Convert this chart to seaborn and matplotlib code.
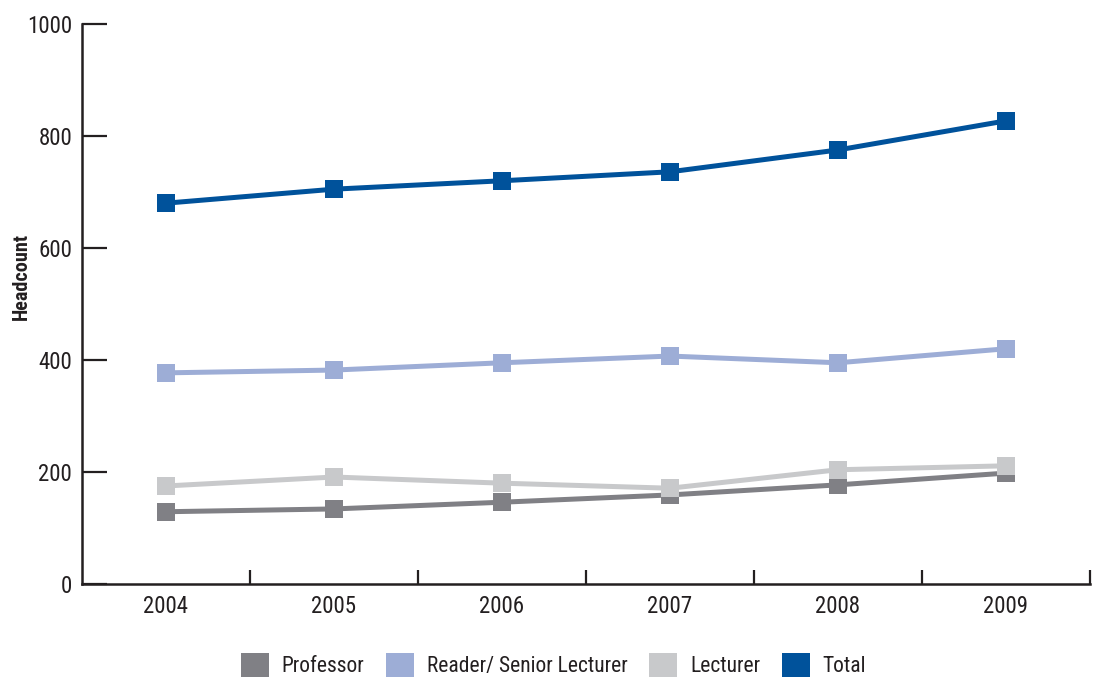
import matplotlib
matplotlib.use("Agg")
import matplotlib.pyplot as plt
from matplotlib import font_manager
from matplotlib.patches import Patch
import pandas as pd
import seaborn as sns

years = ["2004", "2005", "2006", "2007", "2008", "2009"]
professor = [129, 134, 146, 159, 177, 198]
reader = [377, 382, 395, 407, 395, 420]
lecturer = [175, 191, 180, 171, 204, 211]
total = [680, 705, 720, 736, 775, 827]

series_names = ["Professor", "Reader/ Senior Lecturer", "Lecturer", "Total"]
series_values = [professor, reader, lecturer, total]
colors = ["#808085", "#9DADD6", "#C8C9CB", "#00529B"]
y_ticks = [0, 200, 400, 600, 800, 1000]

rows = []
for name, vals in zip(series_names, series_values):
    for i, v in enumerate(vals):
        rows.append({"pos": i, "year": years[i], "role": name, "headcount": v})
df = pd.DataFrame(rows)

sns.set_theme(style="white")
available = {f.name for f in font_manager.fontManager.ttflist}
family = "Liberation Sans"
for cand in ["Roboto Condensed", "Liberation Sans Narrow", "Open Sans Condensed",
             "Noto Sans Condensed", "DejaVu Sans Condensed"]:
    if cand in available:
        family = cand
        break
plt.rcParams["font.family"] = [family, "DejaVu Sans"]
ink = "#231f20"

fig = plt.figure(figsize=(11, 6.77), dpi=100)
ax = fig.add_axes([0.0745, 0.1374, 0.9164, 0.8272])

sns.lineplot(
    data=df, x="pos", y="headcount", hue="role", hue_order=series_names,
    palette=colors, style="role", markers=["s"] * 4, dashes=False,
    markersize=12.5, markeredgewidth=0, linewidth=3.6, ax=ax, legend=False,
)

ax.set_xlim(-0.5, 5.5)
ax.set_ylim(0, 1000)
ax.set_yticks(y_ticks)
ax.set_yticklabels([str(t) for t in y_ticks], fontsize=16.5, color=ink)

# year labels sit at category centres; tick marks at category boundaries
ax.set_xticks(range(len(years)))
ax.set_xticklabels(years, fontsize=16.5, color=ink)
ax.tick_params(axis="x", which="major", bottom=True, length=0, pad=8)
ax.set_xticks([i + 0.5 for i in range(len(years))], minor=True)
ax.tick_params(axis="x", which="minor", bottom=True, direction="in",
               length=10, width=1.6, color=ink)
ax.tick_params(axis="y", which="major", left=True, direction="in",
               length=18, width=1.6, color=ink, pad=7)

for side in ["top", "right"]:
    ax.spines[side].set_visible(False)
for side in ["left", "bottom"]:
    ax.spines[side].set_linewidth(1.8)
    ax.spines[side].set_color(ink)

ax.set_xlabel("")
ax.set_ylabel("Headcount", fontsize=14.5, fontweight="bold", color=ink)
ax.yaxis.set_label_coords(-0.051, 0.55)
ax.grid(False)

handles = [Patch(facecolor=c, edgecolor="none") for c in colors]
fig.legend(
    handles, series_names, loc="center", bbox_to_anchor=(0.503, 0.0177),
    ncol=4, frameon=False, fontsize=15.5, handlelength=1.3, handleheight=1.3,
    handletextpad=0.6, columnspacing=1.0, labelcolor=ink,
)

fig.savefig("out.png", dpi=100)
